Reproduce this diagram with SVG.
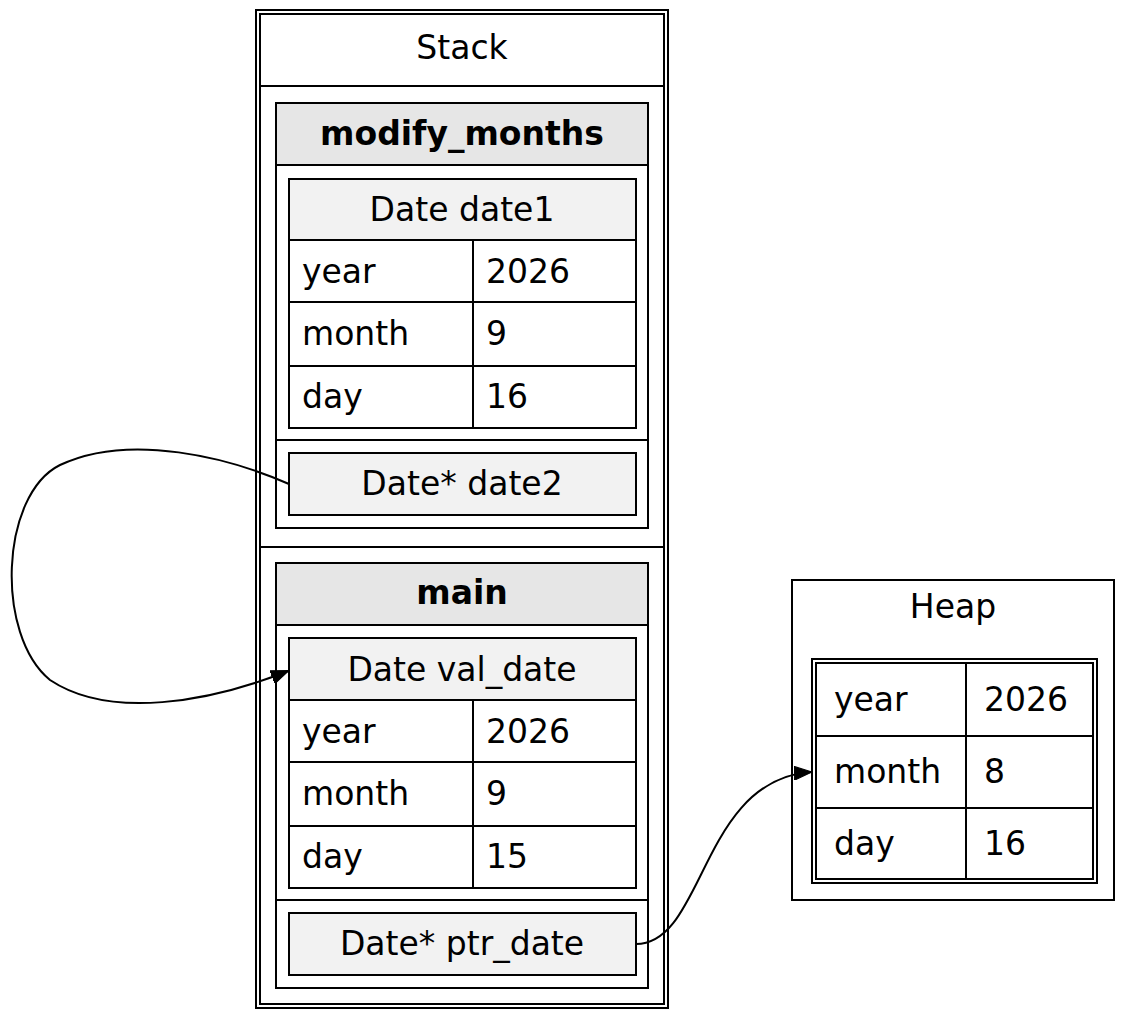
<svg xmlns="http://www.w3.org/2000/svg" width="1145" height="1018" viewBox="0 0 1145 1018">
<style>
text{font-family:"DejaVu Sans",sans-serif;font-size:33px;fill:#000}
.b{font-weight:bold}
.m{text-anchor:middle}
rect,line,path{stroke:#000;stroke-width:2;fill:none}
.h1{fill:#e6e6e6}
.h2{fill:#f2f2f2}
</style>
<defs><marker id="a" markerWidth="18" markerHeight="14" refX="17" refY="7" orient="auto" markerUnits="userSpaceOnUse"><path d="M0,0L18,7L0,14Z" style="fill:#000;stroke:#000;stroke-width:1"/></marker></defs>
<rect width="1145" height="1018" style="fill:#fff;stroke:none"/>
<g id="stack">
<rect x="256" y="10" width="412" height="998"/>
<rect x="260" y="14" width="404" height="990"/>
<text x="462" y="59" class="m">Stack</text>
<line x1="260" y1="86" x2="664" y2="86"/>
<rect x="276" y="103" width="372" height="425"/>
<rect x="276" y="103" width="372" height="62" class="h1"/>
<text x="462" y="145" class="m b">modify_months</text>
<rect x="289" y="179" width="347" height="249"/>
<rect x="289" y="179" width="347" height="61" class="h2"/>
<text x="462" y="221" class="m">Date date1</text>
<line x1="289" y1="302" x2="636" y2="302"/><line x1="289" y1="366" x2="636" y2="366"/>
<line x1="473" y1="240" x2="473" y2="428"/>
<text x="302" y="283">year</text><text x="486" y="283">2026</text>
<text x="302" y="345">month</text><text x="486" y="345">9</text>
<text x="302" y="408">day</text><text x="486" y="408">16</text>
<line x1="276" y1="440" x2="648" y2="440"/>
<rect x="289" y="453" width="347" height="62" class="h2"/>
<text x="462" y="495" class="m">Date* date2</text>
<line x1="260" y1="547" x2="664" y2="547"/>
<rect x="276" y="563" width="372" height="425"/>
<rect x="276" y="563" width="372" height="62" class="h1"/>
<text x="462" y="604" class="m b">main</text>
<rect x="289" y="638" width="347" height="250"/>
<rect x="289" y="638" width="347" height="62" class="h2"/>
<text x="462" y="681" class="m">Date val_date</text>
<line x1="289" y1="762" x2="636" y2="762"/><line x1="289" y1="826" x2="636" y2="826"/>
<line x1="473" y1="700" x2="473" y2="888"/>
<text x="302" y="743">year</text><text x="486" y="743">2026</text>
<text x="302" y="805">month</text><text x="486" y="805">9</text>
<text x="302" y="868">day</text><text x="486" y="868">15</text>
<line x1="276" y1="900" x2="648" y2="900"/>
<rect x="289" y="913" width="347" height="62" class="h2"/>
<text x="462" y="955" class="m">Date* ptr_date</text>
</g>
<g id="heap">
<rect x="792" y="580" width="322" height="320"/>
<text x="953" y="618" class="m">Heap</text>
<rect x="812" y="659" width="285" height="224"/>
<rect x="816" y="663" width="277" height="216"/>
<line x1="816" y1="736" x2="1093" y2="736"/><line x1="816" y1="808" x2="1093" y2="808"/>
<line x1="966" y1="663" x2="966" y2="879"/>
<text x="834" y="711">year</text><text x="984" y="711">2026</text>
<text x="834" y="783">month</text><text x="984" y="783">8</text>
<text x="834" y="855">day</text><text x="984" y="855">16</text>
</g>
<g id="edges">
<path d="M289,484 C230,458 130,432 60,465 C0,495 -5,635 50,680 C110,720 210,702 288,671" marker-end="url(#a)"/>
<path d="M636,944 C705,944 700,780 811,772" marker-end="url(#a)"/>
</g>
</svg>
